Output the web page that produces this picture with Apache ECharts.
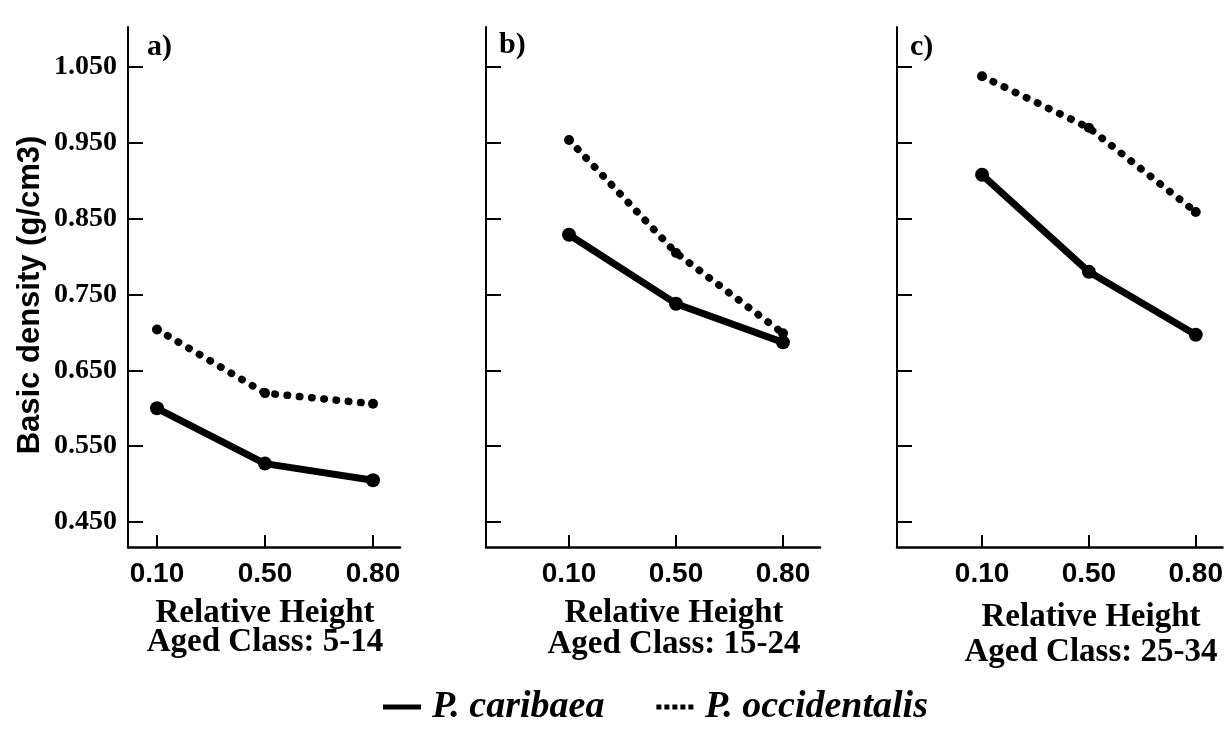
<!DOCTYPE html>
<html>
<head>
<meta charset="utf-8">
<script src="https://cdn.jsdelivr.net/npm/echarts@6/dist/echarts.min.js"></script>
<style>
  html, body { margin: 0; padding: 0; background: #ffffff; }
  #chart { width: 1226px; height: 736px; }
</style>
</head>
<body>
<div id="chart"></div>
<script>
// ---- data ----
const categories = ['0.10', '0.50', '0.80'];
const yTickValues = [0.45, 0.55, 0.65, 0.75, 0.85, 0.95, 1.05];
const seriesNames = ['P. caribaea', 'P. occidentalis'];
const caribaeaA = [0.600, 0.527, 0.505];
const occidentalisA = [0.704, 0.620, 0.606];
const caribaeaB = [0.829, 0.738, 0.687];
const occidentalisB = [0.954, 0.805, 0.699];
const caribaeaC = [0.908, 0.780, 0.697];
const occidentalisC = [1.038, 0.970, 0.859];
const panelLetters = ['a)', 'b)', 'c)'];
const xTitle = 'Relative Height';
const ageClasses = ['Aged Class: 5-14', 'Aged Class: 15-24', 'Aged Class: 25-34'];
const yTitle = 'Basic density (g/cm3)';

// ---- layout ----
const grids = [
  { left: 128, right: 826, top: 27, bottom: 189 },
  { left: 486, right: 406, top: 27, bottom: 189 },
  { left: 897, right: 0, top: 27, bottom: 189 }
];
const xRanges = [[-0.2685, 2.25], [-0.776, 2.346], [-0.796, 2.25]];
const letterPos = [[147, 47], [499, 45], [910, 47]];
const titlePos = [[265, 613, 642], [674, 613, 644], [1091, 617, 652]];

const caribaea = [caribaeaA, caribaeaB, caribaeaC];
const occidentalis = [occidentalisA, occidentalisB, occidentalisC];

const toPts = arr => arr.map((v, i) => [i, v]);

const xAxes = grids.map((g, k) => ({
  type: 'value', gridIndex: k, min: xRanges[k][0], max: xRanges[k][1],
  axisLine: { show: true, onZero: false, lineStyle: { color: '#000', width: 2.5 } },
  axisTick: { show: true, inside: true, length: 12, customValues: [0, 1, 2], lineStyle: { color: '#000', width: 2 } },
  axisLabel: {
    show: true, customValues: [0, 1, 2], margin: 13,
    formatter: v => categories[Math.round(v)],
    color: '#000', fontFamily: 'Liberation Sans', fontWeight: 'bold', fontSize: 28
  },
  splitLine: { show: false }
}));

const yAxes = grids.map((g, k) => ({
  type: 'value', gridIndex: k, min: 0.417, max: 1.103,
  axisLine: { show: true, onZero: false, lineStyle: { color: '#000', width: 2 } },
  axisTick: { show: true, inside: true, length: 15, customValues: yTickValues, lineStyle: { color: '#000', width: 2 } },
  axisLabel: {
    show: k === 0, customValues: yTickValues, margin: 11,
    formatter: v => Number(v).toFixed(3),
    color: '#000', fontFamily: 'Liberation Serif', fontWeight: 'bold', fontSize: 28
  },
  splitLine: { show: false }
}));

const series = [];
grids.forEach((g, k) => {
  series.push({
    name: seriesNames[0], type: 'line', xAxisIndex: k, yAxisIndex: k,
    data: toPts(caribaea[k]),
    symbol: 'circle', symbolSize: 14,
    lineStyle: { color: '#000', width: 7 },
    itemStyle: { color: '#000' },
    z: 3
  });
  series.push({
    name: seriesNames[1], type: 'line', xAxisIndex: k, yAxisIndex: k,
    data: toPts(occidentalis[k]),
    symbol: 'circle', symbolSize: 10,
    lineStyle: { color: '#000', width: 7.5, type: [0.5, 11.8], cap: 'round' },
    itemStyle: { color: '#000' },
    z: 4
  });
});

const graphics = [{
  type: 'text', x: 30, y: 295, rotation: Math.PI / 2,
  style: { text: yTitle, fill: '#000', font: 'bold 31px "Liberation Sans"', textAlign: 'center', textVerticalAlign: 'middle' }
}];
panelLetters.forEach((t, k) => {
  graphics.push({
    type: 'text', x: letterPos[k][0], y: letterPos[k][1],
    style: { text: t, fill: '#000', font: 'bold 30px "Liberation Serif"', textAlign: 'left', textVerticalAlign: 'middle' }
  });
  graphics.push({
    type: 'text', x: titlePos[k][0], y: titlePos[k][1],
    style: { text: xTitle, fill: '#000', font: 'bold 33px "Liberation Serif"', textAlign: 'center', textVerticalAlign: 'middle' }
  });
  graphics.push({
    type: 'text', x: titlePos[k][0], y: titlePos[k][2],
    style: { text: ageClasses[k], fill: '#000', font: 'bold 33px "Liberation Serif"', textAlign: 'center', textVerticalAlign: 'middle' }
  });
});

const chart = echarts.init(document.getElementById('chart'), null, { renderer: 'canvas' });
chart.setOption({
  backgroundColor: '#ffffff',
  animation: false,
  grid: grids,
  xAxis: xAxes,
  yAxis: yAxes,
  series: series,
  legend: {
    left: 378, top: 683, selectedMode: false,
    itemWidth: 38, itemHeight: 5, itemGap: 52,
    textStyle: { color: '#000', fontFamily: 'Liberation Serif', fontWeight: 'bold', fontStyle: 'italic', fontSize: 38, padding: [0, 0, 0, 6] },
    data: [
      { name: seriesNames[0], icon: 'rect' },
      { name: seriesNames[1], icon: 'path://M0,0h5v5h-5z M8,0h5v5h-5z M16,0h5v5h-5z M24,0h5v5h-5z M32,0h5v5h-5z' }
    ]
  },
  graphic: graphics
});
</script>
</body>
</html>
